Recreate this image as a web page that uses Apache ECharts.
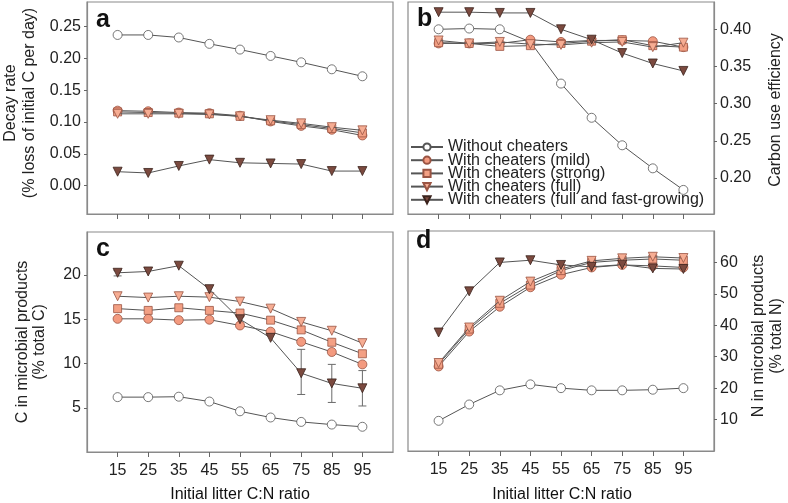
<!DOCTYPE html>
<html>
<head>
<meta charset="utf-8">
<script src="https://cdn.jsdelivr.net/npm/echarts@6/dist/echarts.min.js"></script>
<style>
html,body{margin:0;padding:0;background:#fff;}
#c{width:788px;height:503px;}
</style>
</head>
<body>
<div id="c"></div>
<script>
// ---------- data ----------
var cnRatio = [15, 25, 35, 45, 55, 65, 75, 85, 95];
var seriesNames = ['Without cheaters', 'With cheaters (mild)', 'With cheaters (strong)', 'With cheaters (full)', 'With cheaters (full and fast-growing)'];

// panel a: decay rate
var decayWithout = [0.237, 0.237, 0.233, 0.223, 0.214, 0.204, 0.194, 0.183, 0.172];
var decayMild    = [0.118, 0.117, 0.115, 0.114, 0.110, 0.101, 0.094, 0.088, 0.079];
var decayStrong  = [0.116, 0.115, 0.114, 0.113, 0.109, 0.102, 0.096, 0.090, 0.083];
var decayFull    = [0.113, 0.113, 0.113, 0.112, 0.109, 0.103, 0.098, 0.092, 0.087];
var decayFast    = [0.022, 0.020, 0.031, 0.041, 0.036, 0.035, 0.034, 0.023, 0.023];

// panel b: carbon use efficiency
var cueWithout = [0.400, 0.401, 0.400, 0.383, 0.327, 0.281, 0.244, 0.213, 0.184];
var cueMild    = [0.381, 0.381, 0.381, 0.386, 0.383, 0.385, 0.385, 0.384, 0.376];
var cueStrong  = [0.382, 0.381, 0.377, 0.378, 0.381, 0.384, 0.386, 0.378, 0.376];
var cueFull    = [0.385, 0.381, 0.383, 0.380, 0.379, 0.382, 0.383, 0.376, 0.382];
var cueFast    = [0.423, 0.423, 0.422, 0.422, 0.400, 0.386, 0.368, 0.354, 0.344];

// panel c: C in microbial products (% total C)
var cWithout = [6.2, 6.2, 6.25, 5.7, 4.6, 3.9, 3.4, 3.1, 2.85];
var cMild    = [15.05, 15.05, 14.9, 14.95, 14.3, 13.6, 12.45, 11.3, 9.9];
var cStrong  = [16.2, 16.0, 16.3, 16.0, 15.7, 14.9, 13.8, 12.4, 11.1];
var cFull    = [17.6, 17.45, 17.6, 17.5, 17.0, 16.2, 14.7, 13.7, 12.3];
var cFast    = [20.25, 20.4, 21.05, 18.4, 15.0, 12.9, 8.9, 7.75, 7.2];
var cFastErrLow  = [19.9, null, null, null, null, null, 6.5, 5.6, 5.2];
var cFastErrHigh = [20.5, null, null, null, null, null, 11.6, 9.9, 9.2];

// panel d: N in microbial products (% total N)
var nWithout = [9.6, 14.8, 19.3, 21.2, 20.0, 19.3, 19.3, 19.5, 20.0];
var nMild    = [26.9, 38.0, 45.9, 52.1, 56.1, 58.4, 59.2, 58.9, 58.4];
var nStrong  = [27.6, 38.8, 47.0, 52.8, 57.4, 60.0, 60.7, 61.1, 60.7];
var nFull    = [28.0, 39.3, 47.8, 53.9, 57.9, 60.5, 61.3, 61.8, 61.4];
var nFast    = [37.7, 50.8, 60.0, 60.7, 59.2, 58.6, 59.3, 58.1, 57.9];

// tick labels
var xTicks = [15, 25, 35, 45, 55, 65, 75, 85, 95];
var yTicksA = [0, 0.05, 0.10, 0.15, 0.20, 0.25];
var yTicksB = [0.20, 0.25, 0.30, 0.35, 0.40];
var yTicksC = [5, 10, 15, 20];
var yTicksD = [10, 20, 30, 40, 50, 60];

// ---------- styles ----------
var FONT = 'Liberation Sans, Arial, Helvetica, sans-serif';
var styles = [
  {symbol: 'circle', size: 9, fill: '#ffffff', border: '#555555', rotate: 0},
  {symbol: 'circle', size: 9, fill: '#f39a7f', border: '#9a5443', rotate: 0},
  {symbol: 'rect', size: 8, fill: '#f3a084', border: '#9a5443', rotate: 0},
  {symbol: 'triangle', size: 9, fill: '#f6ad93', border: '#9a5443', rotate: 180},
  {symbol: 'triangle', size: 9, fill: '#7b4a3f', border: '#3a221c', rotate: 180}
];

function pairs(vals) {
  return cnRatio.map(function (x, i) { return [x, vals[i]]; });
}

var panels = [
  [decayWithout, decayMild, decayStrong, decayFull, decayFast],
  [cueWithout, cueMild, cueStrong, cueFull, cueFast],
  [cWithout, cMild, cStrong, cFull, cFast],
  [nWithout, nMild, nStrong, nFull, nFast]
];

var series = [];
panels.forEach(function (p, pi) {
  if (pi === 2) {
    var errData = [];
    cnRatio.forEach(function (x, i) {
      if (cFastErrLow[i] != null) errData.push([x, cFastErrLow[i], cFastErrHigh[i]]);
    });
    series.push({
      type: 'custom', xAxisIndex: 2, yAxisIndex: 2, z: 1, silent: true,
      data: errData,
      renderItem: function (params, api) {
        var lo = api.coord([api.value(0), api.value(1)]);
        var hi = api.coord([api.value(0), api.value(2)]);
        var w = 4;
        var st = {stroke: '#6a6a6a', lineWidth: 1};
        return {type: 'group', children: [
          {type: 'line', shape: {x1: lo[0], y1: lo[1], x2: hi[0], y2: hi[1]}, style: st},
          {type: 'line', shape: {x1: lo[0] - w, y1: lo[1], x2: lo[0] + w, y2: lo[1]}, style: st},
          {type: 'line', shape: {x1: hi[0] - w, y1: hi[1], x2: hi[0] + w, y2: hi[1]}, style: st}
        ]};
      }
    });
  }
  p.forEach(function (vals, si) {
    var s = styles[si];
    series.push({
      type: 'line', name: seriesNames[si], xAxisIndex: pi, yAxisIndex: pi,
      data: pairs(vals), z: 2 + si,
      symbol: s.symbol, symbolSize: s.size, symbolRotate: s.rotate, showAllSymbol: true,
      lineStyle: {color: '#555555', width: 1},
      itemStyle: {color: s.fill, borderColor: s.border, borderWidth: 0.8},
      emphasis: {disabled: true}, animation: false
    });
  });
});

var grids = [
  {left: 87, top: 2, width: 306, height: 212},
  {left: 408, top: 2, width: 306, height: 212},
  {left: 87, top: 232, width: 306, height: 220},
  {left: 408, top: 231, width: 306, height: 220}
].map(function (g) {
  g.show = true; g.borderColor = '#8a8a8a'; g.borderWidth = 1.2; g.containLabel = false;
  return g;
});

function xAxis(idx, showLabels) {
  return {
    type: 'value', gridIndex: idx, min: 5, max: 105, position: 'bottom',
    axisLine: {show: true, onZero: false, lineStyle: {color: '#8a8a8a', width: 1.2}},
    splitLine: {show: false},
    axisTick: {show: true, inside: false, customValues: xTicks, length: 5, lineStyle: {color: '#666', width: 1}},
    axisLabel: {show: showLabels, customValues: xTicks, margin: 11, color: '#222', fontSize: 16, fontFamily: FONT}
  };
}
function yAxis(idx, min, max, ticks, pos, dec) {
  return {
    type: 'value', gridIndex: idx, min: min, max: max, position: pos,
    axisLine: {show: true, onZero: false, lineStyle: {color: '#8a8a8a', width: 1.2}},
    splitLine: {show: false},
    axisTick: {show: true, inside: false, customValues: ticks, length: 3, lineStyle: {color: '#666'}},
    axisLabel: {customValues: ticks, margin: 6, color: '#222', fontSize: 16, fontFamily: FONT,
      formatter: function (v) { return dec ? v.toFixed(dec) : String(v); }}
  };
}

function vText(x, y, txt) {
  return {type: 'text', x: x, y: y, rotation: Math.PI / 2, silent: true,
    style: {text: txt, font: '16px ' + FONT, fill: '#222', align: 'center', verticalAlign: 'middle'}};
}
function hText(x, y, txt, font, align) {
  return {type: 'text', x: x, y: y, silent: true,
    style: {text: txt, font: font, fill: '#111', align: align || 'center', verticalAlign: 'bottom'}};
}

var option = {
  backgroundColor: '#ffffff',
  animation: false,
  grid: grids,
  xAxis: [xAxis(0, false), xAxis(1, false), xAxis(2, true), xAxis(3, true)],
  yAxis: [
    yAxis(0, -0.0445, 0.2888, yTicksA, 'left', 2),
    yAxis(1, 0.1516, 0.4367, yTicksB, 'right', 2),
    yAxis(2, 0, 24.86, yTicksC, 'left', 0),
    yAxis(3, 0, 70, yTicksD, 'right', 0)
  ],
  legend: {
    data: seriesNames, orient: 'vertical', left: 410, top: 139, padding: 0,
    itemWidth: 32, itemHeight: 9, itemGap: -2.8, selectedMode: false,
    textStyle: {fontSize: 16, fontFamily: FONT, color: '#222'}
  },
  series: series,
  graphic: [
    vText(11, 103, 'Decay rate'),
    vText(29.5, 103, '(% loss of initial C per day)'),
    vText(776, 110, 'Carbon use efficiency'),
    vText(22.5, 342, 'C in microbial products'),
    vText(40, 342, '(% total C)'),
    vText(759, 336, 'N in microbial products'),
    vText(777, 336, '(% total N)'),
    hText(240, 503, 'Initial litter C:N ratio', '16px ' + FONT),
    hText(562, 503, 'Initial litter C:N ratio', '16px ' + FONT),
    hText(96, 33, 'a', 'bold 25px ' + FONT, 'left'),
    hText(417, 32, 'b', 'bold 25px ' + FONT, 'left'),
    hText(96, 262, 'c', 'bold 25px ' + FONT, 'left'),
    hText(416, 254, 'd', 'bold 25px ' + FONT, 'left')
  ]
};

var chart = echarts.init(document.getElementById('c'), null, {renderer: 'canvas'});
chart.setOption(option);
</script>
</body>
</html>
